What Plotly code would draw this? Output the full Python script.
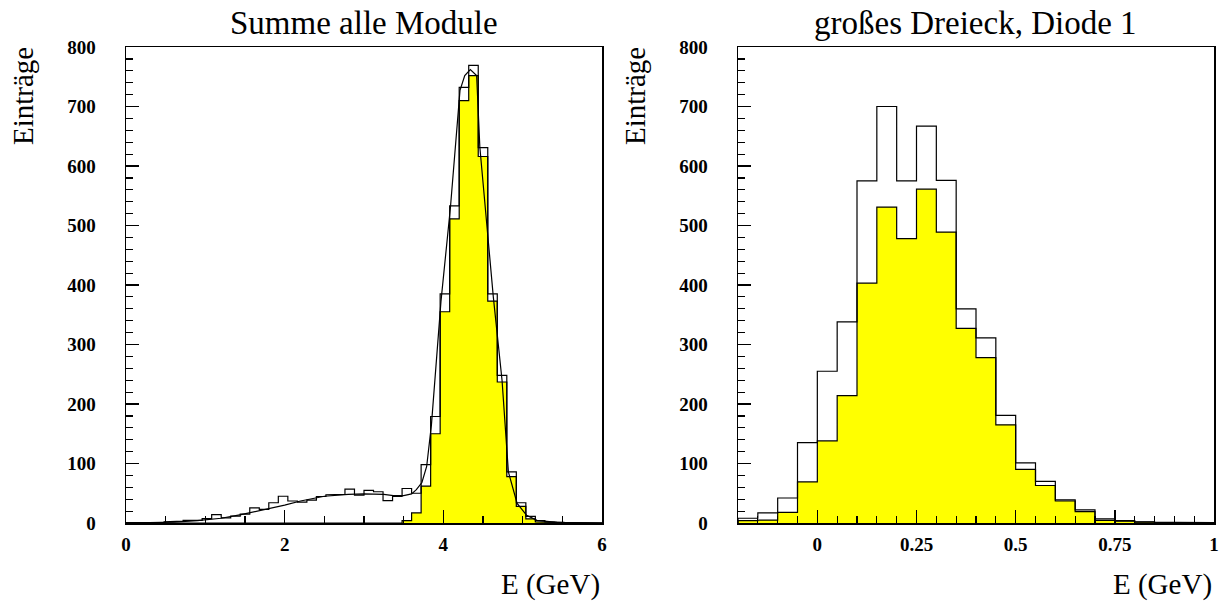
import numpy as np
import plotly.graph_objects as go

# ---------------- data ----------------
left_bin_lo, left_bin_hi, left_nbins = 0.0, 6.0, 50
left_all = [0.5, 0.5, 1, 1, 2, 3, 4.5, 4.5, 7.5, 14,
            8.5, 11.5, 15, 25.5, 23, 34, 45, 37, 35, 38.5,
            44.5, 47.5, 48, 57, 47, 55, 52.5, 37.5, 44.5, 58,
            50, 98, 179, 385, 533, 732, 769, 631, 385, 248,
            86, 34, 11, 4, 2, 1, 0.5, 0.5, 0, 0]
left_sel = [0] * 29 + [4, 17, 62, 150, 355, 511, 710, 752, 616, 373,
                       237, 78, 28, 7, 2, 1, 0, 0, 0, 0, 0]
fit_x = [0, 0.3, 0.6, 0.9, 1.2, 1.45, 1.7, 2.0, 2.2, 2.5, 2.8, 3.0, 3.25, 3.37,
         3.5, 3.6, 3.66, 3.73, 3.79, 3.85, 3.97, 4.09, 4.21, 4.27, 4.34, 4.42,
         4.46, 4.63, 4.74, 4.82, 4.93, 5.05, 5.18, 5.43, 6.0]
fit_y = [0, 0.5, 1.5, 4, 8, 14, 21, 30, 37, 45, 48, 49, 48, 46,
         46, 49, 56, 68, 95, 165, 372, 531, 727, 752, 762, 752,
         632, 380, 240, 86, 33, 13, 4.5, 1, 0]

right_bin_lo, right_bin_hi, right_nbins = -0.2, 1.0, 24
right_all = [8, 17, 42, 135, 255, 338, 575, 700, 575, 667, 576, 360,
             311, 181, 101, 70, 39, 22, 7, 4, 2, 1, 1, 0.5]
right_sel = [4, 5, 18, 69, 138, 214, 403, 531, 478, 561, 489, 327,
             278, 165, 90, 63, 37, 19, 4.5, 3, 1.5, 0.5, 0.5, 0]

left_xticks = [0, 2, 4, 6]
left_xtext = ["0", "2", "4", "6"]
right_xticks = [0, 0.25, 0.5, 0.75, 1]
right_xtext = ["0", "0.25", "0.5", "0.75", "1"]
y_ticks = [0, 100, 200, 300, 400, 500, 600, 700, 800]

titles = ["Summe alle Module", "großes Dreieck, Diode 1"]
x_title = "E (GeV)"
y_title = "Einträge"


def step_path(lo, hi, n, vals):
    edges = np.linspace(lo, hi, n + 1)
    xs, ys = [edges[0]], [0]
    for i, v in enumerate(vals):
        xs += [edges[i], edges[i + 1]]
        ys += [v, v]
    xs.append(edges[-1])
    ys.append(0)
    return xs, ys


W, H = 1221, 604
SERIF = "Liberation Serif, Times New Roman, serif"


def px(x):
    return x / W


def py(y):
    return (H - y) / H


fig = go.Figure()

x, y = step_path(left_bin_lo, left_bin_hi, left_nbins, left_sel)
fig.add_trace(go.Scatter(x=x, y=y, mode="lines", fill="tozeroy", fillcolor="#ffff00",
                         line=dict(color="black", width=1.2), xaxis="x", yaxis="y",
                         hoverinfo="skip"))
x, y = step_path(left_bin_lo, left_bin_hi, left_nbins, left_all)
fig.add_trace(go.Scatter(x=x, y=y, mode="lines", line=dict(color="black", width=1.2),
                         xaxis="x", yaxis="y", hoverinfo="skip"))
fig.add_trace(go.Scatter(x=fit_x, y=fit_y, mode="lines", line=dict(color="black", width=1.2),
                         xaxis="x", yaxis="y", hoverinfo="skip"))

x, y = step_path(right_bin_lo, right_bin_hi, right_nbins, right_sel)
fig.add_trace(go.Scatter(x=x, y=y, mode="lines", fill="tozeroy", fillcolor="#ffff00",
                         line=dict(color="black", width=1.2), xaxis="x2", yaxis="y2",
                         hoverinfo="skip"))
x, y = step_path(right_bin_lo, right_bin_hi, right_nbins, right_all)
fig.add_trace(go.Scatter(x=x, y=y, mode="lines", line=dict(color="black", width=1.2),
                         xaxis="x2", yaxis="y2", hoverinfo="skip"))

tickfont = dict(family=SERIF, size=19, color="black", weight="bold")
common = dict(showline=True, linecolor="black", linewidth=1.5, mirror=True,
              showgrid=False, zeroline=False, ticks="inside", ticklen=13,
              tickwidth=1.5, tickcolor="black", tickfont=tickfont, automargin=False)
minor_common = dict(ticklen=7, ticks="inside", tickcolor="black", tickwidth=1.2, showgrid=False)

ydom = [py(523), py(47)]
fig.update_layout(
    template="none",
    width=W, height=H, autosize=False, margin=dict(l=0, r=0, t=0, b=0, pad=0),
    paper_bgcolor="white", plot_bgcolor="white", showlegend=False,
    xaxis=dict(domain=[px(126), px(602)], range=[left_bin_lo, left_bin_hi], anchor="y",
               tickmode="array", tickvals=left_xticks, ticktext=left_xtext,
               minor=dict(dtick=0.5, tick0=0, **minor_common),
               ticklabelstandoff=4, **common),
    yaxis=dict(domain=ydom, range=[0, 800], anchor="x", tickmode="array", tickvals=y_ticks,
               minor=dict(dtick=20, tick0=0, **minor_common),
               ticklabelstandoff=25, **common),
    xaxis2=dict(domain=[px(738), px(1214)], range=[right_bin_lo, right_bin_hi], anchor="y2",
                tickmode="array", tickvals=right_xticks, ticktext=right_xtext,
                minor=dict(dtick=0.05, tick0=0, **minor_common),
                ticklabelstandoff=4, **common),
    yaxis2=dict(domain=ydom, range=[0, 800], anchor="x2", tickmode="array", tickvals=y_ticks,
                minor=dict(dtick=20, tick0=0, **minor_common),
                ticklabelstandoff=25, **common),
)

txt = dict(family=SERIF, size=33, color="black")
txt2 = dict(family=SERIF, size=29, color="black")
ann = []
for cx, t in zip([364, 976], titles):
    ann.append(dict(text=t, x=px(cx), y=py(23), xref="paper", yref="paper",
                    xanchor="center", yanchor="middle", showarrow=False, font=txt))
for rx in [602, 1214]:
    ann.append(dict(text=x_title, x=px(rx), y=py(584), xref="paper", yref="paper",
                    xanchor="right", yanchor="middle", showarrow=False, font=txt2))
for cx in [23, 635]:
    ann.append(dict(text=y_title, x=px(cx), y=py(96), xref="paper", yref="paper",
                    xanchor="center", yanchor="middle", textangle=-90, showarrow=False, font=txt2))
fig.update_layout(annotations=ann)

fig.write_html(
    "out.html",
    config={"displayModeBar": False, "staticPlot": True},
    post_script="document.documentElement.style.margin='0';document.body.style.margin='0';"
                "document.body.style.overflow='hidden';",
)
